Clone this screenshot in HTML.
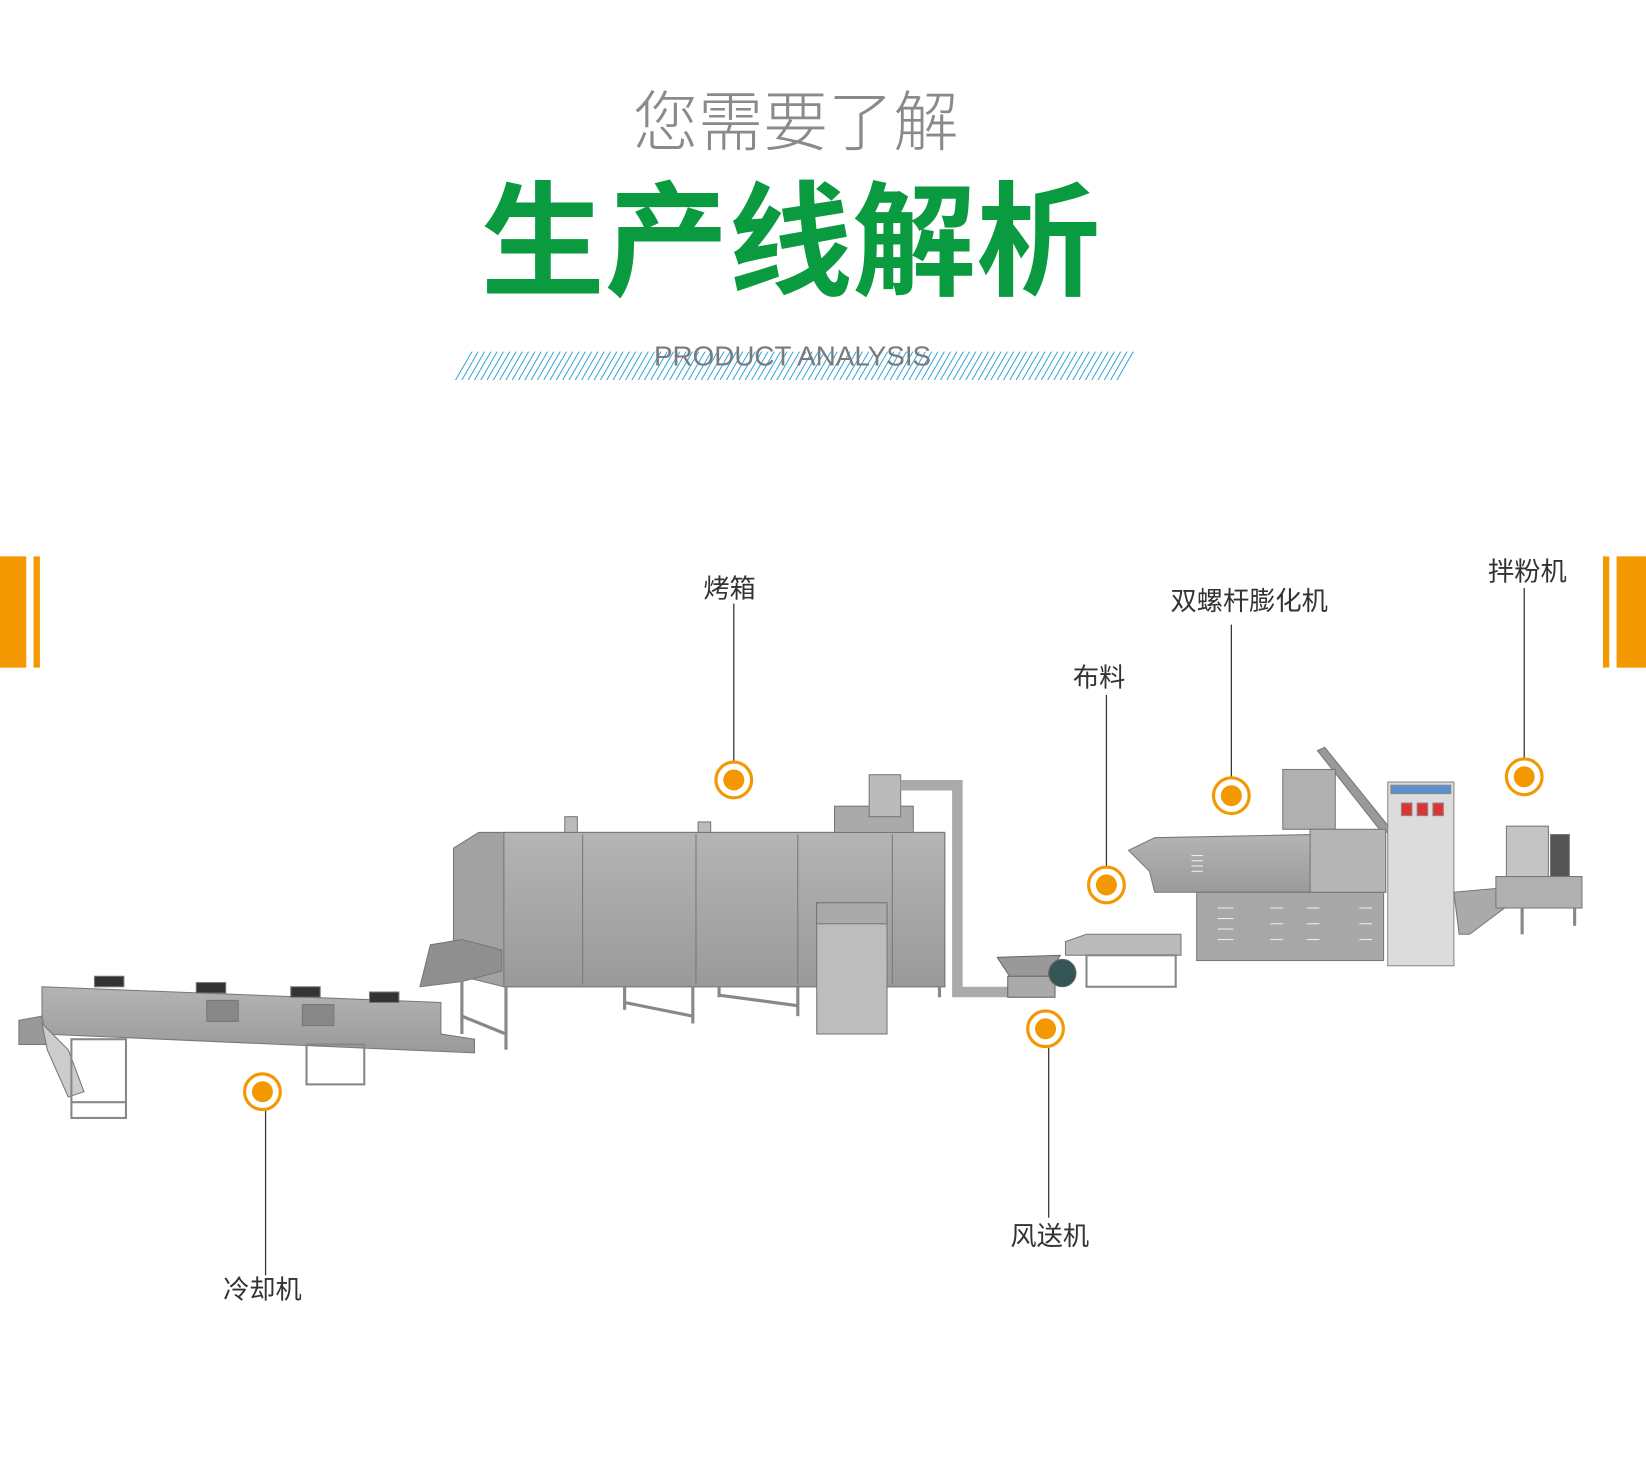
<!DOCTYPE html>
<html><head><meta charset="utf-8"><style>
html,body{margin:0;padding:0;background:#fff;width:1646px;height:1469px;overflow:hidden}
svg{display:block}
text{font-family:"Liberation Sans","Noto Sans CJK SC",sans-serif}
</style></head><body>
<svg width="1646" height="1469" viewBox="0 0 1568 1399.4" preserveAspectRatio="none" xmlns="http://www.w3.org/2000/svg">
<defs>
<pattern id="hatch" width="6" height="30" patternUnits="userSpaceOnUse" patternTransform="skewX(-30)">
<line x1="1" y1="0" x2="1" y2="30" stroke="#1a9ad6" stroke-width="1"/>
</pattern>
<linearGradient id="metal" x1="0" y1="0" x2="0" y2="1"><stop offset="0" stop-color="#b4b4b4"/><stop offset="1" stop-color="#9a9a9a"/></linearGradient>
</defs>
<!-- title -->
<text x="758" y="138" font-size="62" fill="#8a8a8a" text-anchor="middle" font-weight="300">您需要了解</text>
<text x="753" y="272" font-size="118" fill="#0a9a40" text-anchor="middle" font-weight="bold">生产线解析</text>
<polygon points="448,335 1084,335 1068,362 432,362" fill="url(#hatch)"/>
<text x="755" y="348" font-size="26" fill="#7a7a7a" text-anchor="middle" textLength="264" lengthAdjust="spacingAndGlyphs">PRODUCT ANALYSIS</text>
<!-- orange bars -->
<rect x="0" y="530" width="25" height="106" fill="#f39800"/>
<rect x="32" y="530" width="6" height="106" fill="#f39800"/>
<rect x="1527" y="530" width="6" height="106" fill="#f39800"/>
<rect x="1540" y="530" width="28" height="106" fill="#f39800"/>

<!-- cooler -->
<g stroke="#777" stroke-width="1">
<polygon points="40,940 420,955 420,985 452,990 452,1003 40,985" fill="url(#metal)"/>
<polygon points="18,972 40,968 45,995 18,995" fill="#999"/>
<polygon points="40,975 65,1000 80,1040 65,1045 45,1000" fill="#ccc"/>
<rect x="90" y="930" width="28" height="10" fill="#333"/><rect x="187" y="936" width="28" height="10" fill="#333"/>
<rect x="277" y="940" width="28" height="10" fill="#333"/><rect x="352" y="945" width="28" height="10" fill="#333"/>
<rect x="197" y="953" width="30" height="20" fill="#888"/><rect x="288" y="957" width="30" height="20" fill="#888"/>
<g fill="none" stroke="#888" stroke-width="2">
<rect x="68" y="990" width="52" height="75"/><line x1="68" y1="1050" x2="120" y2="1050"/>
<rect x="292" y="995" width="55" height="38"/>
</g>
</g>
<!-- oven -->
<g stroke="#777" stroke-width="1">
<polygon points="432,808 456,793 900,793 900,940 480,940 432,928" fill="#a2a2a2"/>
<rect x="480" y="793" width="420" height="147" fill="url(#metal)"/>
<line x1="555" y1="795" x2="555" y2="938"/><line x1="663" y1="795" x2="663" y2="938"/><line x1="760" y1="795" x2="760" y2="938"/><line x1="850" y1="795" x2="850" y2="938"/>
<polygon points="410,900 440,895 478,905 478,925 440,935 400,940" fill="#8f8f8f"/>
<g fill="none" stroke="#888" stroke-width="3">
<line x1="440" y1="935" x2="440" y2="985"/><line x1="482" y1="940" x2="482" y2="1000"/><line x1="440" y1="968" x2="482" y2="985"/>
<line x1="595" y1="940" x2="595" y2="962"/><line x1="660" y1="940" x2="660" y2="975"/><line x1="595" y1="955" x2="660" y2="968"/>
<line x1="685" y1="940" x2="685" y2="950"/><line x1="760" y1="940" x2="760" y2="968"/><line x1="685" y1="948" x2="760" y2="958"/>
<line x1="895" y1="940" x2="895" y2="950"/>
</g>
<rect x="778" y="860" width="67" height="125" fill="#bdbdbd"/>
<rect x="778" y="860" width="67" height="20" fill="#aaa"/>
<rect x="795" y="768" width="75" height="25" fill="#aaa"/>
<rect x="828" y="738" width="30" height="40" fill="#bbb"/>
<rect x="538" y="778" width="12" height="15" fill="#bbb"/><rect x="665" y="783" width="12" height="10" fill="#bbb"/>
</g>
<path d="M858,748 H912 V945 H960" fill="none" stroke="#aaa" stroke-width="10"/>
<!-- blower -->
<g stroke="#666" stroke-width="1">
<polygon points="950,912 1010,910 995,935 965,935" fill="#999"/>
<rect x="960" y="930" width="45" height="20" fill="#aaa"/>
<circle cx="1012" cy="927" r="13" fill="#355"/>
</g>
<!-- distributor -->
<g stroke="#777" stroke-width="1">
<polygon points="1015,897 1035,890 1125,890 1125,910 1015,910" fill="#bbb"/>
<g fill="none" stroke="#888" stroke-width="2"><rect x="1035" y="910" width="85" height="30"/></g>
</g>
<!-- extruder -->
<g stroke="#777" stroke-width="1">
<polygon points="1255,715 1262,712 1325,790 1318,795" fill="#999"/>
<rect x="1222" y="733" width="50" height="57" fill="#b0b0b0"/>
<polygon points="1075,810 1100,798 1250,795 1320,795 1320,850 1250,850 1100,850 1095,830" fill="url(#metal)"/>
<rect x="1140" y="850" width="178" height="65" fill="#a8a8a8"/>
<rect x="1248" y="790" width="72" height="60" fill="#b5b5b5"/>
<g stroke="#eee"><line x1="1135" y1="815" x2="1146" y2="815"/><line x1="1135" y1="820" x2="1146" y2="820"/><line x1="1135" y1="825" x2="1146" y2="825"/><line x1="1135" y1="830" x2="1146" y2="830"/>
<line x1="1160" y1="865" x2="1175" y2="865"/><line x1="1160" y1="875" x2="1175" y2="875"/><line x1="1160" y1="885" x2="1175" y2="885"/><line x1="1160" y1="895" x2="1175" y2="895"/>
<line x1="1210" y1="865" x2="1222" y2="865"/><line x1="1210" y1="880" x2="1222" y2="880"/><line x1="1210" y1="895" x2="1222" y2="895"/>
<line x1="1245" y1="865" x2="1257" y2="865"/><line x1="1245" y1="880" x2="1257" y2="880"/><line x1="1245" y1="895" x2="1257" y2="895"/>
<line x1="1295" y1="865" x2="1307" y2="865"/><line x1="1295" y1="880" x2="1307" y2="880"/><line x1="1295" y1="895" x2="1307" y2="895"/></g>
</g>
<!-- control cabinet -->
<g stroke="#888" stroke-width="1">
<rect x="1322" y="745" width="63" height="175" fill="#dcdcdc"/>
<rect x="1325" y="748" width="57" height="8" fill="#5a8fd0"/>
<rect x="1335" y="765" width="10" height="12" fill="#d33"/><rect x="1350" y="765" width="10" height="12" fill="#d33"/><rect x="1365" y="765" width="10" height="12" fill="#d33"/>
</g>
<!-- mixer -->
<g stroke="#777" stroke-width="1">
<polygon points="1385,850 1440,845 1440,860 1400,890 1390,890" fill="#aaa"/>
<rect x="1435" y="787" width="40" height="50" fill="#c4c4c4"/>
<rect x="1477" y="795" width="18" height="40" fill="#555"/>
<rect x="1425" y="835" width="82" height="30" fill="#b0b0b0"/>
<g fill="none" stroke="#888" stroke-width="3"><line x1="1450" y1="865" x2="1450" y2="890"/><line x1="1500" y1="865" x2="1500" y2="882"/></g>
</g>

<!-- callouts -->
<g stroke="#333" stroke-width="1.2">
<line x1="699" y1="575" x2="699" y2="725"/>
<line x1="1054" y1="662" x2="1054" y2="825"/>
<line x1="1173" y1="595" x2="1173" y2="740"/>
<line x1="1452" y1="560" x2="1452" y2="722"/>
<line x1="999" y1="998" x2="999" y2="1160"/>
<line x1="253" y1="1058" x2="253" y2="1215"/>
</g>
<g fill="#fff" stroke="#f39800" stroke-width="3">
<circle cx="699" cy="743" r="17"/><circle cx="1054" cy="843" r="17"/><circle cx="1173" cy="758" r="17"/>
<circle cx="1452" cy="740" r="17"/><circle cx="996" cy="980" r="17"/><circle cx="250" cy="1040" r="17"/>
</g>
<g fill="#f39800">
<circle cx="699" cy="743" r="10"/><circle cx="1054" cy="843" r="10"/><circle cx="1173" cy="758" r="10"/>
<circle cx="1452" cy="740" r="10"/><circle cx="996" cy="980" r="10"/><circle cx="250" cy="1040" r="10"/>
</g>
<g font-size="25" fill="#333" text-anchor="middle">
<text x="695" y="569">烤箱</text>
<text x="1047" y="654">布料</text>
<text x="1190" y="581">双螺杆膨化机</text>
<text x="1455" y="553">拌粉机</text>
<text x="1000" y="1186">风送机</text>
<text x="250" y="1237">冷却机</text>
</g>
</svg>
</body></html>
